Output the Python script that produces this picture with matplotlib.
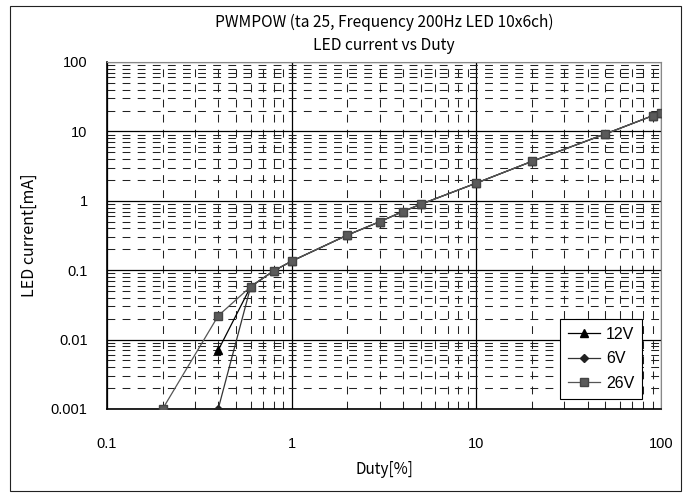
import matplotlib
matplotlib.use("Agg")
import matplotlib.pyplot as plt
from matplotlib.patches import Rectangle
from matplotlib.ticker import LogLocator, FixedLocator, NullFormatter

# data (duty in %, current in mA)
duty_12v = [0.4, 0.6, 0.8, 1, 2, 3, 4, 5, 10, 20, 50, 90, 100]
cur_12v = [0.007, 0.058, 0.098, 0.135, 0.32, 0.5, 0.7, 0.89, 1.8, 3.7, 9.2, 16.8, 18.6]

duty_6v = [0.4, 0.6, 0.8, 1, 2, 3, 4, 5, 10, 20, 50, 90, 100]
cur_6v = [0.001, 0.058, 0.098, 0.135, 0.32, 0.5, 0.7, 0.89, 1.8, 3.7, 9.2, 16.8, 18.6]

duty_26v = [0.2, 0.4, 0.6, 0.8, 1, 2, 3, 4, 5, 10, 20, 50, 90, 100]
cur_26v = [0.001, 0.022, 0.058, 0.098, 0.135, 0.32, 0.5, 0.7, 0.89, 1.8, 3.7, 9.2, 16.8, 18.6]

x_ticks = [0.1, 1, 10, 100]
x_labels = ["0.1", "1", "10", "100"]
y_ticks = [0.001, 0.01, 0.1, 1, 10, 100]
y_labels = ["0.001", "0.01", "0.1", "1", "10", "100"]

jp = ["Noto Sans CJK JP", "DejaVu Sans"]
num = "Liberation Sans"

fig = plt.figure(figsize=(6.83, 4.93), dpi=100)
fig.patches.append(Rectangle((10 / 683, 1 - 491 / 493), 671 / 683, 485 / 493,
                             transform=fig.transFigure, fill=False,
                             edgecolor="#222222", linewidth=0.8))

ax = fig.add_axes([107 / 683, 1 - 409 / 493, 554 / 683, 347 / 493])
ax.set_xscale("log")
ax.set_yscale("log")
ax.set_xlim(0.1, 100)
ax.set_ylim(0.001, 100)

ax.plot(duty_12v, cur_12v, color="black", lw=0.9, marker="^", ms=6,
        mfc="black", mec="black", label="12V", zorder=3)
ax.plot(duty_6v, cur_6v, color="#333333", lw=0.9, marker="D", ms=4,
        mfc="#222222", mec="#222222", label="6V", zorder=3)
ax.plot(duty_26v, cur_26v, color="#555555", lw=0.9, marker="s", ms=6,
        mfc="#5a5a5a", mec="#444444", label="26V", zorder=4)

ax.xaxis.set_major_locator(FixedLocator(x_ticks))
ax.yaxis.set_major_locator(FixedLocator(y_ticks))
ax.xaxis.set_minor_locator(LogLocator(base=10, subs=range(2, 10)))
ax.yaxis.set_minor_locator(LogLocator(base=10, subs=range(2, 10)))
ax.xaxis.set_minor_formatter(NullFormatter())
ax.yaxis.set_minor_formatter(NullFormatter())
ax.set_xticklabels(x_labels, fontfamily=num, fontsize=10.5)
ax.set_yticklabels(y_labels, fontfamily=num, fontsize=10.5)
ax.tick_params(which="both", length=0)
ax.tick_params(axis="x", pad=20)
ax.tick_params(axis="y", pad=14)

ax.grid(which="major", color="black", lw=0.9)
ax.grid(which="minor", color="#222222", lw=0.75, linestyle=(0, (7.5, 7)))
ax.set_axisbelow(True)

for s in ["top", "right"]:
    ax.spines[s].set_color("#888888")
for s in ["left", "bottom"]:
    ax.spines[s].set_color("black")
    ax.spines[s].set_linewidth(1.2)

ax.set_xlabel("Duty[%]", fontfamily=jp, fontsize=11, labelpad=7)
ax.set_ylabel("LED current[mA]", fontfamily=jp, fontsize=11.5, labelpad=9)
fig.text(384 / 683, 1 - 22 / 493, "PWMPOW (ta 25, Frequency 200Hz LED 10x6ch)",
         ha="center", va="center", family=jp, fontsize=11.2)
fig.text(384 / 683, 1 - 45 / 493, "LED current vs Duty",
         ha="center", va="center", family=jp, fontsize=11.2)

leg = ax.legend(loc="lower right", bbox_to_anchor=(0.966, 0.029),
                borderaxespad=0, fancybox=False, framealpha=1,
                edgecolor="black", prop={"family": num, "size": 11.5},
                handlelength=2.0, handletextpad=0.4, labelspacing=0.6,
                borderpad=0.5)
leg.get_frame().set_linewidth(0.8)

fig.savefig("out.png", dpi=100)
